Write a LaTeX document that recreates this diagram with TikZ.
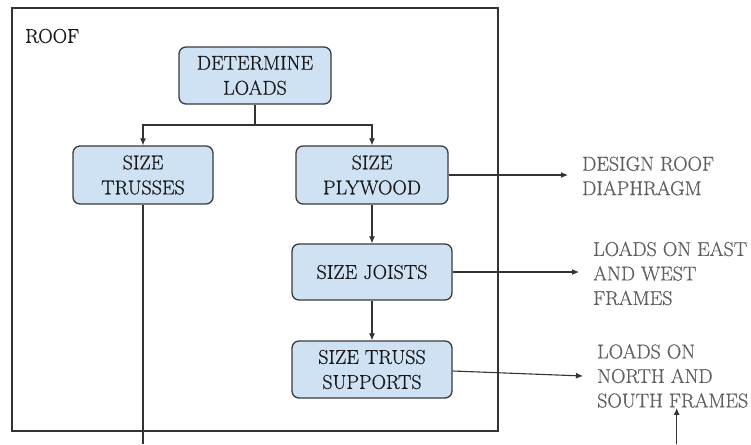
\documentclass[tikz,border=0pt]{standalone}
\usepackage{fontspec}
\newfontfamily\heavyfont{Latin Modern Roman}[FakeBold=0.6]
\usetikzlibrary{arrows.meta}
\definecolor{boxfill}{HTML}{CFE2F3}
\definecolor{boxline}{HTML}{3A3A3A}
\definecolor{outtext}{HTML}{5E5E5E}
\tikzset{
  stepbox/.style={draw=boxline, fill=boxfill, line width=1.3pt, rounded corners=7pt,
    inner sep=0pt, align=center, text=black!90,
    font=\heavyfont\fontsize{20}{25}\selectfont},
  outlabel/.style={inner xsep=14pt, inner ysep=0pt, align=left, text=outtext,
    font=\heavyfont\fontsize{20}{24.5}\selectfont},
  conn/.style={draw=black!80, line width=1.1pt},
  arr/.style={conn, -{Latex[length=7pt,width=6pt]}}
}
\begin{document}
\begin{tikzpicture}[x=1pt,y=-1pt]
\useasboundingbox (0,0) rectangle (751,444);
\node[draw=black!80, line width=1.5pt, minimum width=486pt, minimum height=423pt, inner sep=0pt] (roof) at (255,219.5) {};
\node[anchor=west, inner sep=0pt, font=\heavyfont\fontsize{20}{24}\selectfont, text=black!90] (rooflbl) at (25,36) {ROOF};

\node[stepbox, minimum width=152pt, minimum height=57pt] (det) at (255,75.5) {DETERMINE\\LOADS};
\node[stepbox, minimum width=140pt, minimum height=58pt] (tru) at (143,175) {SIZE\\TRUSSES};
\node[stepbox, minimum width=152pt, minimum height=58pt] (ply) at (372,175) {SIZE\\PLYWOOD};
\node[stepbox, minimum width=160pt, minimum height=56pt] (joi) at (372,272) {SIZE JOISTS};
\node[stepbox, minimum width=160pt, minimum height=57pt] (sup) at (372,369.5) {SIZE TRUSS\\SUPPORTS};

\node[outlabel, anchor=west] (dia) at (568,176) {DESIGN ROOF\\DIAPHRAGM};
\node[outlabel, anchor=west] (ew) at (579,273.5) {LOADS ON EAST\\AND WEST\\FRAMES};
\node[outlabel, anchor=west] (ns) at (583,376) {LOADS ON\\NORTH AND\\SOUTH FRAMES};

\coordinate (split) at (255,125);
\draw[conn] (det.south) -- (split);
\draw[arr] (split) -| (tru.north);
\draw[arr] (split) -| (ply.north);
\draw[arr] (ply.south) -- (joi.north);
\draw[arr] (joi.south) -- (sup.north);

\draw[arr] (ply.east) -- (ply.east -| dia.west);
\draw[arr] (joi.east) -- (joi.east -| ew.west);
\draw[arr] ([yshift=-1.5pt]sup.east) -- (ns.west);

\coordinate (trusend) at (143,444);
\draw[conn] (tru.south) -- (trusend);
\coordinate (nsin) at ([xshift=4pt]ns.south);
\coordinate (upstart) at (nsin |- 0,444);
\draw[arr] (upstart) -- (nsin);
\end{tikzpicture}
\end{document}
